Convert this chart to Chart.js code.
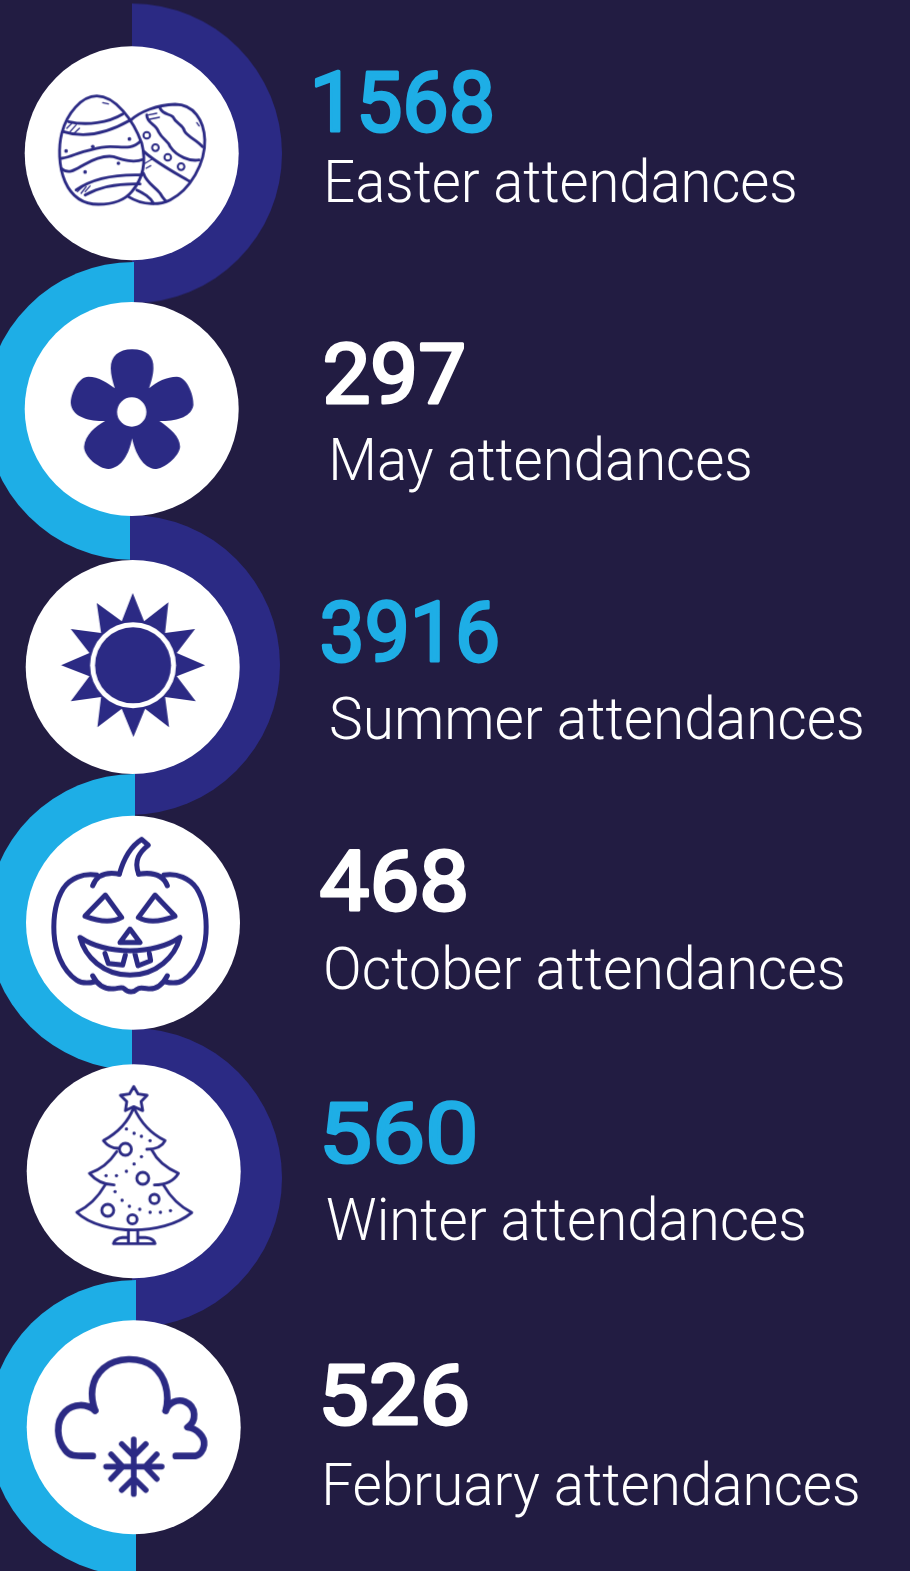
<!DOCTYPE html>
<html><head><meta charset="utf-8">
<style>html,body{margin:0;padding:0;background:#221c42;overflow:hidden}#w{position:absolute;left:0;top:0;width:910px;height:1571px}</style>
<script src="https://cdn.jsdelivr.net/npm/chart.js@4"></script>
</head><body><div id="w"><canvas id="c"></canvas></div>
<script>
// ---- chart content ----
const categories = ["Easter attendances","May attendances","Summer attendances","October attendances","Winter attendances","February attendances"];
const attendances = [1568,297,3916,468,560,526];

// ---- layout (not data) ----
const discX = [131.7,131.7,132.7,133,133.7,133.7];
const discY = [153.3,409,667,922.7,1171.3,1427.3];
const ringX = [132,134,130,135,132,136];
const ringY = [153.5,411,665,922,1178,1428];
const ringR = [150,149,150,148,150,148];
const numL = [314,324,321,320,324,323], numR=[493,465,498,467,475,468], numBase=[131.5,404,662,911,1163,1425];
const labL = [328,333,331,326,327,326], labR=[795,750,862,843,804,858], labBase=[202,480,739,989,1240,1505];
const COL = {bg:'#221c42',navy:'#2b2a84',cyan:'#1eaee6',white:'#ffffff'};
const numFont='400 83px Roboto', labFont='300 59px Roboto';

function halfDisc(r,color,rightSide){
  const c=document.createElement('canvas');const s=Math.ceil(r)*2+2;c.width=s;c.height=s;
  const x=c.getContext('2d');x.fillStyle=color;x.beginPath();
  x.arc(s/2,s/2,r,rightSide?-Math.PI/2:Math.PI/2,rightSide?Math.PI/2:Math.PI*1.5);x.closePath();x.fill();return c;
}
function iconCanvas(cx,cy,draw){
  const c=document.createElement('canvas');c.width=214;c.height=214;const x=c.getContext('2d');
  x.translate(107,107);x.scale(1/3,1/3);x.translate(-cx,-cy);
  x.strokeStyle=COL.navy;x.fillStyle=COL.navy;x.lineCap='round';x.lineJoin='round';
  draw(x);return c;
}
const S=(x,p,w)=>{x.lineWidth=w;x.stroke(new Path2D(p));};
const F=(x,p)=>x.fill(new Path2D(p));
const dots=(x,l,r)=>l.forEach(d=>{x.beginPath();x.arc(d[0],d[1],r,0,7);x.fill();});
const rings=(x,l,w)=>{x.lineWidth=w;l.forEach(d=>{x.beginPath();x.arc(d[0],d[1],d[2],0,7);x.fillStyle='#fff';x.fill();x.stroke();});x.fillStyle=COL.navy;};
const icons=[
 iconCanvas(395,460,x=>{
  const w=8.5;
  S(x,'M390,362 C420,335 470,315 525,313 C580,313 612,360 614,420 C616,490 570,570 510,600 C480,615 430,618 385,590',w);
  S(x,'M480,325 C490,345 505,340 518,350 C530,375 548,372 553,393 C565,412 590,420 607,440',w);
  S(x,'M440,345 C440,370 468,372 475,395 C488,420 505,422 510,440 C530,470 570,485 597,480',w);
  S(x,'M432,455 C470,490 520,515 570,545',w);
  S(x,'M430,520 C440,550 465,560 480,580 C488,595 495,600 497,603 M410,570 C430,580 450,590 460,610',w);
  S(x,'M445,345 L470,340 M448,358 L478,352 M435,490 L455,478 M438,505 L452,497 M590,368 L597,378',4);
  rings(x,[[440,406,10],[466,443,10],[503,472,10],[543,500,10]],6);
  S(x,'M290,288 C345,288 400,360 425,430 C440,490 425,540 395,575 C370,605 330,613 295,613 C250,613 215,590 195,545 C175,500 175,440 185,400 C200,340 245,288 290,288Z',w);
  S(x,'M205,365 C260,378 325,368 368,342 M190,395 C260,418 330,395 388,362',w);
  S(x,'M185,475 C210,472 225,462 250,455 C280,448 300,440 330,440 C365,440 395,450 420,425',w);
  S(x,'M183,505 C205,525 225,510 250,495 C280,478 310,465 340,470 C370,480 400,490 430,478',w);
  S(x,'M228,570 C270,540 330,522 425,525 M255,585 C300,560 360,550 420,552',w);
  S(x,'M200,385 L215,370 M210,395 L228,375 M222,400 L238,385 M232,575 L248,560 M243,580 L258,560 M255,575 L270,558 M308,308 L325,312',4);
  dots(x,[[198,453],[278,440],[388,417],[355,490],[255,516]],5.5);
 }),
 iconCanvas(395,387,x=>{
  F(x,'M396,208 C440,208 462,230 460,265 C460,285 452,310 447,325 C470,305 500,290 530,290 C560,290 582,345 580,375 C575,410 530,425 478,423 C510,445 540,470 540,500 C538,530 490,567 465,567 C430,565 405,520 396,475 C388,520 365,565 325,567 C295,565 252,530 252,500 C255,465 285,440 315,423 C265,425 215,410 212,370 C212,340 235,290 265,290 C295,290 325,310 344,325 C338,305 332,285 332,265 C332,230 355,208 396,208Z');
  x.fillStyle='#fff';x.beginPath();x.arc(395,396,44,0,7);x.fill();
 }),
 iconCanvas(398,382,x=>{
  F(x,'M398,160 L432,245 L505,188 L495,280 L585,268 L530,340 L615,377 L530,410 L587,485 L495,472 L507,563 L435,507 L400,592 L365,507 L292,563 L303,472 L212,485 L268,410 L183,377 L268,340 L212,268 L303,280 L290,190 L365,245Z');
  x.fillStyle='#fff';x.beginPath();x.arc(399,377,129,0,7);x.fill();
  x.fillStyle=COL.navy;x.beginPath();x.arc(399,377,114,0,7);x.fill();
 }),
 iconCanvas(399,368,x=>{
  const w=15;
  S(x,'M278,257 C290,225 320,215 358,222 M290,225 C250,218 210,235 190,265 C165,305 160,360 162,400 C165,450 185,510 230,540 C245,550 265,550 285,545',w);
  S(x,'M502,257 C490,225 460,215 416,222 M492,225 C530,218 570,235 590,265 C615,305 620,360 618,400 C615,450 595,510 550,540 C535,550 515,550 495,545',w);
  S(x,'M358,222 C370,180 390,140 425,118 L445,135 C420,155 400,180 416,222',w);
  S(x,'M278,527 C290,550 310,568 340,566 C355,565 365,560 372,565 C385,578 400,578 412,567 C420,560 430,565 445,566 C470,568 490,550 502,527',w);
  S(x,'M316,285 L365,352 C330,372 290,362 255,348Z M465,285 L415,352 C450,372 490,362 525,348Z M390,387 L420,427 L360,427Z',w);
  S(x,'M240,412 C320,465 460,465 540,412 C525,470 470,525 390,525 C310,525 255,470 240,412Z M315,460 L325,490 L368,495 L376,465 M405,462 L414,497 L452,482 L448,460',w);
 }),
 iconCanvas(401,364,x=>{
  const w=8.5;
  S(x,'M401,110 L414,132 L441,136 L423,155 L428,182 L401,170 L376,182 L380,155 L361,136 L388,132Z',w);
  S(x,'M401,172 C420,215 450,250 495,272 C485,292 465,298 440,298 M455,300 C470,330 500,355 535,370 C520,395 495,405 463,405 M490,405 C510,440 540,470 575,488 C530,525 460,540 401,540 C340,540 270,525 230,487 C265,470 295,440 315,405 M342,405 C315,405 290,395 268,370 C300,360 330,335 350,305 M355,295 C335,295 320,285 310,272 C350,250 385,215 401,172',w);
  S(x,'M385,542 L385,580 M413,542 L413,580 M340,581 L465,581 C460,565 445,562 415,562 M385,562 C360,562 345,565 340,581',w);
  rings(x,[[376,298,18],[428,385,18],[463,447,14],[323,481,18],[397,508,14]],8.5);
  dots(x,[[379,237],[402,250],[424,259],[450,272],[424,320],[402,342],[379,364],[349,377],[318,377],[345,425],[366,451],[388,469],[419,478],[450,487],[481,487],[511,482]],5);
 }),
 iconCanvas(401,382,x=>{
  const w=20;
  S(x,'M285,332 C270,290 270,240 310,205 C350,170 420,170 460,200 C495,230 510,280 497,332',w);
  S(x,'M497,332 C505,310 530,295 555,305 C590,320 590,365 562,382 C590,385 615,410 612,435 C610,450 600,465 585,468 L527,468',w);
  S(x,'M285,332 C260,310 220,310 195,335 C165,365 170,420 195,450 C210,470 225,468 278,468',w);
  S(x,'M401,418 L401,582 M318,500 L485,500 M365,432 L401,468 L437,432 M365,570 L401,535 L437,570 M333,463 L368,500 L333,537 M470,463 L435,500 L470,537',17);
 })
];

const ringPoints = categories.map((c,i)=>({x:ringX[i],y:ringY[i]}));
const discPoints = categories.map((c,i)=>({x:discX[i],y:discY[i]}));
const ringStyles = categories.map((c,i)=>halfDisc(ringR[i],i%2?COL.cyan:COL.navy,i%2===0));

function fitText(ctx,text,left,right,base,strokeW){
  const m=ctx.measureText(text);
  const ink=m.actualBoundingBoxLeft+m.actualBoundingBoxRight+strokeW;
  const sx=(right-left)/ink;
  ctx.save();ctx.translate(left+strokeW/2*sx,base);ctx.scale(sx,1);
  ctx.fillText(text,m.actualBoundingBoxLeft,0);
  if(strokeW){ctx.lineWidth=strokeW;ctx.lineJoin='round';ctx.strokeStyle=ctx.fillStyle;ctx.strokeText(text,m.actualBoundingBoxLeft,0);}
  ctx.restore();
}
const labelsPlugin={id:'labels',afterDatasetsDraw(chart){
  const {ctx,scales:{x,y}}=chart;ctx.save();ctx.textBaseline='alphabetic';ctx.textAlign='left';
  categories.forEach((name,i)=>{
    ctx.font=numFont;ctx.fillStyle=i%2?COL.white:COL.cyan;
    fitText(ctx,String(attendances[i]),x.getPixelForValue(numL[i]),x.getPixelForValue(numR[i]),y.getPixelForValue(numBase[i])-1,3);
    ctx.font=labFont;ctx.fillStyle=COL.white;
    fitText(ctx,name,x.getPixelForValue(labL[i]),x.getPixelForValue(labR[i]),y.getPixelForValue(labBase[i]),0);
  });
  ctx.restore();
}};

new Chart(document.getElementById('c'),{
  type:'scatter',
  data:{datasets:[
    {label:'rings',data:ringPoints,pointStyle:ringStyles,pointRadius:150,order:3,clip:false},
    {label:'discs',data:discPoints,pointRadius:107,pointBackgroundColor:COL.white,pointBorderWidth:0,order:2,clip:false},
    {label:'icons',data:discPoints,pointStyle:icons,pointRadius:107,order:1,clip:false}
  ]},
  options:{
    responsive:true,maintainAspectRatio:false,animation:false,
    layout:{padding:0,autoPadding:false},
    plugins:{legend:{display:false},tooltip:{enabled:false}},
    events:[],
    scales:{
      x:{type:'linear',min:0,max:910,display:false},
      y:{type:'linear',min:0,max:1571,reverse:true,display:false}
    }
  },
  plugins:[labelsPlugin,{id:'bg',beforeDraw(ch){ch.ctx.fillStyle=COL.bg;ch.ctx.fillRect(0,0,ch.width,ch.height);}}]
});
</script></body></html>
